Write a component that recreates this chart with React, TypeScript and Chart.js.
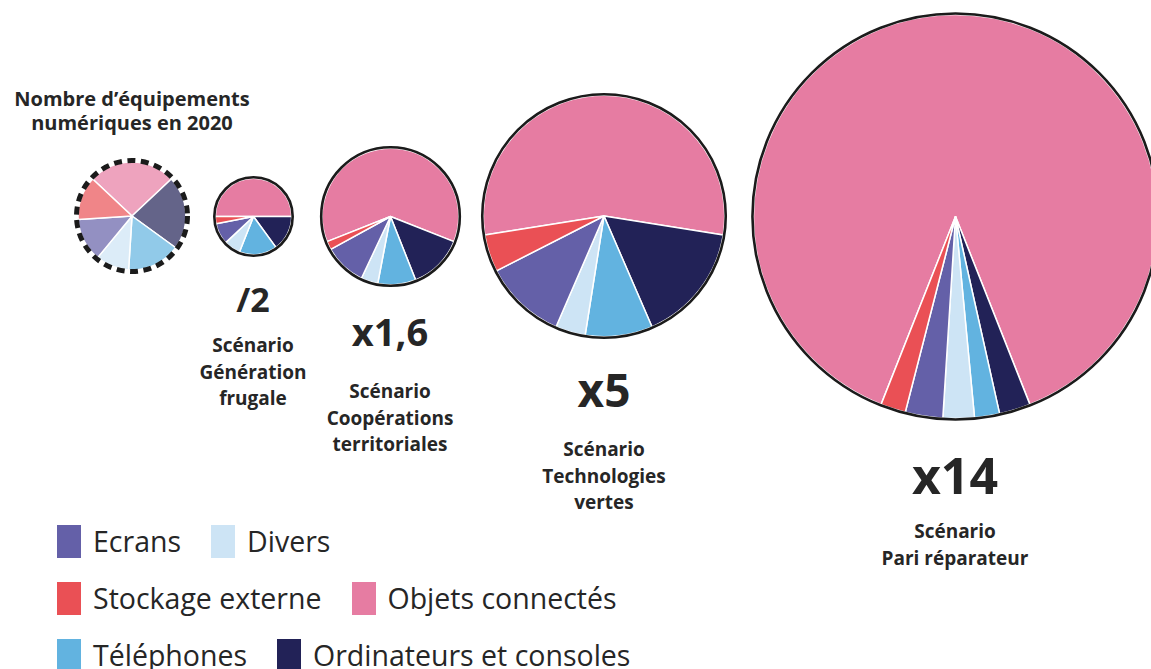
import React, { useEffect, useRef } from "react";
import { Chart, registerables } from "chart.js";

Chart.register(...registerables);

// ---------- DATA ----------
const categories = [
  "Objets connectés",
  "Ordinateurs et consoles",
  "Téléphones",
  "Divers",
  "Ecrans",
  "Stockage externe",
];
const categoryColors = ["#e67ca2", "#222257", "#62b3e0", "#cde4f5", "#6460a8", "#ea5055"];

const legendRows = [
  ["Ecrans", "Divers"],
  ["Stockage externe", "Objets connectés"],
  ["Téléphones", "Ordinateurs et consoles"],
];

// relative number of devices vs 2020
const scenarioFactors = [1, 0.5, 1.6, 5, 14];
const scenarioMultipliers = ["", "/2", "x1,6", "x5", "x14"];
const scenarioNames = [
  ["Nombre d’équipements", "numériques en 2020"],
  ["Scénario", "Génération", "frugale"],
  ["Scénario", "Coopérations", "territoriales"],
  ["Scénario", "Technologies", "vertes"],
  ["Scénario", "Pari réparateur"],
];

// shares (%) per category, in the order of `categories`
const shares2020 = [26, 22, 16, 10, 13, 13];
const sharesFrugale = [50, 15, 16, 7, 9, 3];
const sharesCooperations = [62, 13, 9, 4, 10, 2];
const sharesTechnologies = [55, 16, 9, 4, 11, 5];
const sharesPari = [88, 2.5, 2, 2.5, 3, 2];
const scenarioShares = [shares2020, sharesFrugale, sharesCooperations, sharesTechnologies, sharesPari];

// ---------- LAYOUT ----------
const BASE_R = 54;
const centersX = [132, 253, 390, 604, 955];
const centerY = 216;
const multiplierLayout = [
  null,
  { top: 282, size: 34 },
  { top: 312, size: 38 },
  { top: 366, size: 46 },
  { top: 450, size: 50 },
];
const nameLayout = [
  { top: 87, size: 20, lh: 24 },
  { top: 332, size: 19, lh: 26.5 },
  { top: 378, size: 19, lh: 26.5 },
  { top: 436, size: 19, lh: 26.5 },
  { top: 518, size: 19, lh: 26.5 },
];
const TEXT = "#262626";

function fade(hex: string, a: number) {
  const n = parseInt(hex.slice(1), 16);
  const r = (n >> 16) & 255, g = (n >> 8) & 255, b = n & 255;
  const m = (c: number) => Math.round(c * a + 255 * (1 - a));
  return `rgb(${m(r)},${m(g)},${m(b)})`;
}

const outlinePlugin = {
  id: "circleOutline",
  afterDatasetsDraw(chart: any, _args: any, opts: any) {
    const arc = chart.getDatasetMeta(0).data[0];
    if (!arc) return;
    const { x, y, outerRadius } = arc.getProps(["x", "y", "outerRadius"], true);
    const ctx = chart.ctx;
    ctx.save();
    ctx.beginPath();
    ctx.strokeStyle = "#1b1b1b";
    if (opts.dashed) {
      ctx.lineWidth = 5;
      ctx.setLineDash([8, 5.5]);
      ctx.arc(x, y, outerRadius + 1.5, 0, Math.PI * 2);
    } else {
      ctx.lineWidth = 2.6;
      ctx.arc(x, y, outerRadius + 1, 0, Math.PI * 2);
    }
    ctx.stroke();
    ctx.restore();
  },
};

function CirclePie({ index }: { index: number }) {
  const ref = useRef<HTMLCanvasElement>(null);
  const radius = BASE_R * Math.sqrt(scenarioFactors[index]);
  const size = Math.ceil(radius * 2 + 14);
  const shares = scenarioShares[index];
  const faded = index === 0;
  useEffect(() => {
    if (!ref.current) return;
    const total = shares.reduce((a, b) => a + b, 0);
    const chart = new Chart(ref.current, {
      type: "pie",
      data: {
        labels: categories,
        datasets: [
          {
            data: shares,
            backgroundColor: categoryColors.map((c) => (faded ? fade(c, 0.7) : c)),
            borderColor: "#ffffff",
            borderWidth: 1.5,
          },
        ],
      },
      options: {
        responsive: false,
        animation: false,
        radius: radius,
        rotation: -(shares[0] / total) * 180,
        layout: { padding: 0 },
        plugins: {
          legend: { display: false },
          tooltip: { enabled: false },
          circleOutline: { dashed: faded },
        } as any,
      } as any,
      plugins: [outlinePlugin],
    });
    return () => chart.destroy();
  }, []);
  return (
    <canvas
      ref={ref}
      width={size}
      height={size}
      style={{
        position: "absolute",
        left: centersX[index] - size / 2,
        top: centerY - size / 2,
        width: size,
        height: size,
      }}
    />
  );
}

export default function App() {
  const colorOf = (label: string) => categoryColors[categories.indexOf(label)];
  return (
    <div
      style={{
        position: "fixed",
        left: 0,
        top: 0,
        width: 1151,
        height: 669,
        overflow: "hidden",
        background: "#ffffff",
        fontFamily: "'Open Sans', sans-serif",
        color: TEXT,
      }}
    >
      {scenarioFactors.map((_, i) => (
        <CirclePie key={"c" + i} index={i} />
      ))}
      {scenarioMultipliers.map((m, i) =>
        m && multiplierLayout[i] ? (
          <div
            key={"m" + i}
            style={{
              position: "absolute",
              left: centersX[i],
              top: multiplierLayout[i]!.top,
              transform: "translateX(-50%)",
              fontSize: multiplierLayout[i]!.size,
              lineHeight: multiplierLayout[i]!.size + "px",
              fontWeight: 700,
              whiteSpace: "nowrap",
            }}
          >
            {m}
          </div>
        ) : null
      )}
      {scenarioNames.map((lines, i) => (
        <div
          key={"n" + i}
          style={{
            position: "absolute",
            left: centersX[i],
            top: nameLayout[i].top,
            transform: "translateX(-50%)",
            fontSize: nameLayout[i].size,
            lineHeight: nameLayout[i].lh + "px",
            fontWeight: 700,
            textAlign: "center",
            whiteSpace: "nowrap",
          }}
        >
          {lines.map((l, j) => (
            <div key={j}>{l}</div>
          ))}
        </div>
      ))}
      <div style={{ position: "absolute", left: 57, top: 525 }}>
        {legendRows.map((row, r) => (
          <div key={r} style={{ display: "flex", alignItems: "flex-start", height: 57 }}>
            {row.map((label, k) => (
              <div key={k} style={{ display: "flex", alignItems: "flex-start", marginRight: 30 }}>
                <div style={{ width: 24, height: 33, background: colorOf(label), marginTop: 0 }} />
                <div
                  style={{
                    marginLeft: 12,
                    fontSize: 28.5,
                    fontWeight: 500,
                    lineHeight: "33px",
                    whiteSpace: "nowrap",
                  }}
                >
                  {label}
                </div>
              </div>
            ))}
          </div>
        ))}
      </div>
    </div>
  );
}
